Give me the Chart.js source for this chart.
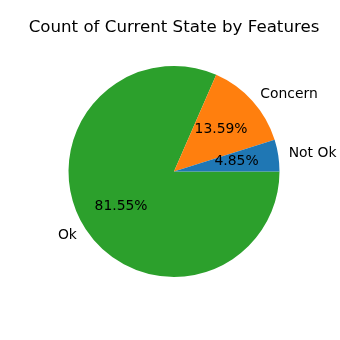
<!DOCTYPE html>
<html>
<head>
<meta charset="utf-8">
<script src="https://cdn.jsdelivr.net/npm/chart.js@4"></script>
<style>
  body { margin: 0; background: #fff; }
  canvas { display: block; }
</style>
</head>
<body>
<canvas id="pieChart" width="340" height="340"></canvas>
<script>
  // counts per state (matplotlib order: Not Ok, Concern, Ok)
  const estados = ['Not Ok', 'Concern', 'Ok'];
  const contagens = [5, 14, 84];
  const cores = ['#1f77b4', '#ff7f0e', '#2ca02c'];

  // matplotlib goes counter-clockwise from 3 o'clock, chart.js clockwise -> reverse
  const labels = estados.slice().reverse();
  const valores = contagens.slice().reverse();
  const fundo = cores.slice().reverse();

  const rotulosPizza = {
    id: 'rotulosPizza',
    afterDatasetsDraw(chart) {
      const ctx = chart.ctx;
      const meta = chart.getDatasetMeta(0);
      const total = valores.reduce((s, v) => s + v, 0);
      ctx.save();
      ctx.fillStyle = '#000';
      ctx.font = '13.9px "DejaVu Sans"';
      ctx.textBaseline = 'middle';
      meta.data.forEach((arc, i) => {
        const a = (arc.startAngle + arc.endAngle) / 2;
        const r = arc.outerRadius;
        // outer label
        const lx = arc.x + Math.cos(a) * r * 1.1;
        const ly = arc.y + Math.sin(a) * r * 1.1;
        ctx.textAlign = Math.cos(a) >= 0 ? 'left' : 'right';
        ctx.fillText(labels[i], lx, ly);
        // percentage
        const px = arc.x + Math.cos(a) * r * 0.6;
        const py = arc.y + Math.sin(a) * r * 0.6;
        ctx.textAlign = 'center';
        ctx.fillText((valores[i] / total * 100).toFixed(2) + '%', px, py);
      });
      ctx.restore();
    }
  };

  new Chart(document.getElementById('pieChart').getContext('2d'), {
    type: 'pie',
    data: {
      labels: labels,
      datasets: [{
        data: valores,
        backgroundColor: fundo,
        borderWidth: 0
      }]
    },
    options: {
      responsive: false,
      animation: false,
      rotation: 90,
      layout: { padding: { left: 8, right: 0, top: 10, bottom: 63 } },
      plugins: {
        legend: { display: false },
        tooltip: { enabled: false },
        title: {
          display: true,
          text: 'Count of Current State by Features',
          color: '#000',
          font: { family: 'DejaVu Sans', size: 16.67, weight: 'normal', lineHeight: 1.2 },
          padding: { top: 8, bottom: 28 }
        }
      }
    },
    plugins: [rotulosPizza]
  });
</script>
</body>
</html>
